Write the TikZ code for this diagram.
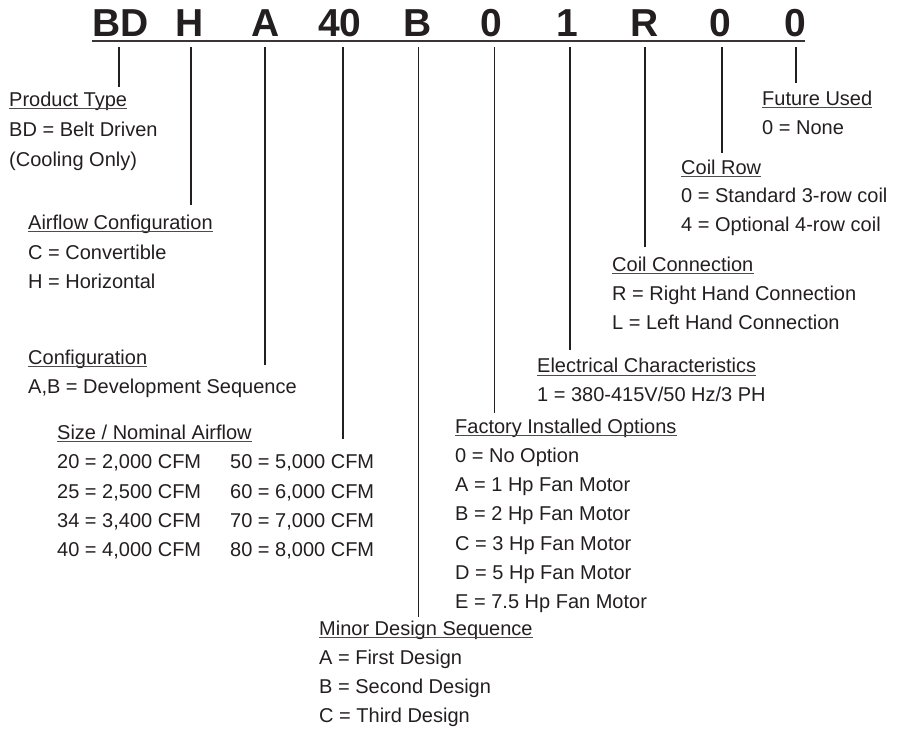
\documentclass[tikz,border=0pt]{standalone}
\usepackage{fontspec}
\setmainfont{Liberation Sans}
\definecolor{ink}{HTML}{231F20}
\begin{document}
\begin{tikzpicture}[x=1pt,y=-1pt,
  code/.style={font=\fontsize{39}{40}\selectfont\bfseries, text=ink, inner sep=0, anchor=base},
  lbl/.style={font=\fontsize{20}{23}\selectfont, text=ink, inner sep=0, anchor=base west},
  lead/.style={line width=1.8pt, draw=ink},
  uline/.style={line width=0.9pt, draw=ink!80},
  rule/.style={line width=1.8pt, draw=ink!90}]
\useasboundingbox (0,0) rectangle (903,729);

% header code letters
\node[code] (cBD) at (120.5,36) {BD};
\node[code] (cH)  at (189.5,36) {H};
\node[code] (cA)  at (266,36) {A};
\node[code] (c40) at (340,36) {40};
\node[code] (cB)  at (417.5,36) {B};
\node[code] (cO)  at (491.5,36) {0};
\node[code] (c1)  at (567,36) {1};
\node[code] (cR)  at (644.5,36) {R};
\node[code] (cC)  at (720,36) {0};
\node[code] (cF)  at (795,36) {0};
\coordinate (ulL) at (92,40.8);
\coordinate (ulR) at (805,40.8);
\draw[rule] (ulL) -- (ulR);

% leader lines: top and end coordinates
\foreach \n/\x/\e in {BD/119/87, H/191/205, A/265/365, 40/343/439, B/418.5/617,
                      O/494.5/413, 1/570/350, R/645/247, C/722/153, F/796/83}{
  \coordinate (t\n) at (\x,47);
  \coordinate (e\n) at (\x,\e);
  \draw[lead] (t\n) -- (e\n);
}

% Product Type
\node[lbl] (ptT) at (9,106) {Product Type};
\node[lbl] (pt1) at (9,136) {BD = Belt Driven};
\node[lbl] (pt2) at (9,166) {(Cooling Only)};

% Airflow Configuration
\node[lbl] (afT) at (28,229) {Airflow Configuration};
\node[lbl] (af1) at (28,259) {C = Convertible};
\node[lbl] (af2) at (28,288) {H = Horizontal};

% Configuration
\node[lbl] (cfT) at (28,364) {Configuration};
\node[lbl] (cf1) at (28,393) {A,B = Development Sequence};

% Size / Nominal Airflow
\node[lbl] (szT) at (57,439) {Size / Nominal Airflow};
\node[lbl] (sz1) at (57,468.5) {20 = 2,000 CFM};
\node[lbl] (sz2) at (57,498) {25 = 2,500 CFM};
\node[lbl] (sz3) at (57,527) {34 = 3,400 CFM};
\node[lbl] (sz4) at (57,556) {40 = 4,000 CFM};
\node[lbl] (sz5) at (230,468.5) {50 = 5,000 CFM};
\node[lbl] (sz6) at (230,498) {60 = 6,000 CFM};
\node[lbl] (sz7) at (230,527) {70 = 7,000 CFM};
\node[lbl] (sz8) at (230,556) {80 = 8,000 CFM};

% Minor Design Sequence
\node[lbl] (mdT) at (319,635) {Minor Design Sequence};
\node[lbl] (md1) at (319,664) {A = First Design};
\node[lbl] (md2) at (319,693.5) {B = Second Design};
\node[lbl] (md3) at (319,722.5) {C = Third Design};

% Factory Installed Options
\node[lbl] (fiT) at (455,433.3) {Factory Installed Options};
\node[lbl] (fi1) at (455,462.7) {0 = No Option};
\node[lbl] (fi2) at (455,491.7) {A = 1 Hp Fan Motor};
\node[lbl] (fi3) at (455,520.5) {B = 2 Hp Fan Motor};
\node[lbl] (fi4) at (455,550) {C = 3 Hp Fan Motor};
\node[lbl] (fi5) at (455,579) {D = 5 Hp Fan Motor};
\node[lbl] (fi6) at (455,608.3) {E = 7.5 Hp Fan Motor};

% Electrical Characteristics
\node[lbl] (ecT) at (537,372.7) {Electrical Characteristics};
\node[lbl] (ec1) at (537,401.7) {1 = 380-415V/50 Hz/3 PH};

% Coil Connection
\node[lbl] (ccT) at (612,271) {Coil Connection};
\node[lbl] (cc1) at (612,300.5) {R = Right Hand Connection};
\node[lbl] (cc2) at (612,329.5) {L = Left Hand Connection};

% Coil Row
\node[lbl] (crT) at (681,174.3) {Coil Row};
\node[lbl] (cr1) at (681,202) {0 = Standard 3-row coil};
\node[lbl] (cr2) at (681,231) {4 = Optional 4-row coil};

% Future Used
\node[lbl] (fuT) at (762,105) {Future Used};
\node[lbl] (fu1) at (762,134) {0 = None};

% underlines of titles
\foreach \n in {ptT,afT,cfT,szT,mdT,fiT,ecT,ccT,crT,fuT}{
  \draw[uline] ([yshift=-2.4pt]\n.base west) -- ([yshift=-2.4pt]\n.base east);
}
\end{tikzpicture}
\end{document}
